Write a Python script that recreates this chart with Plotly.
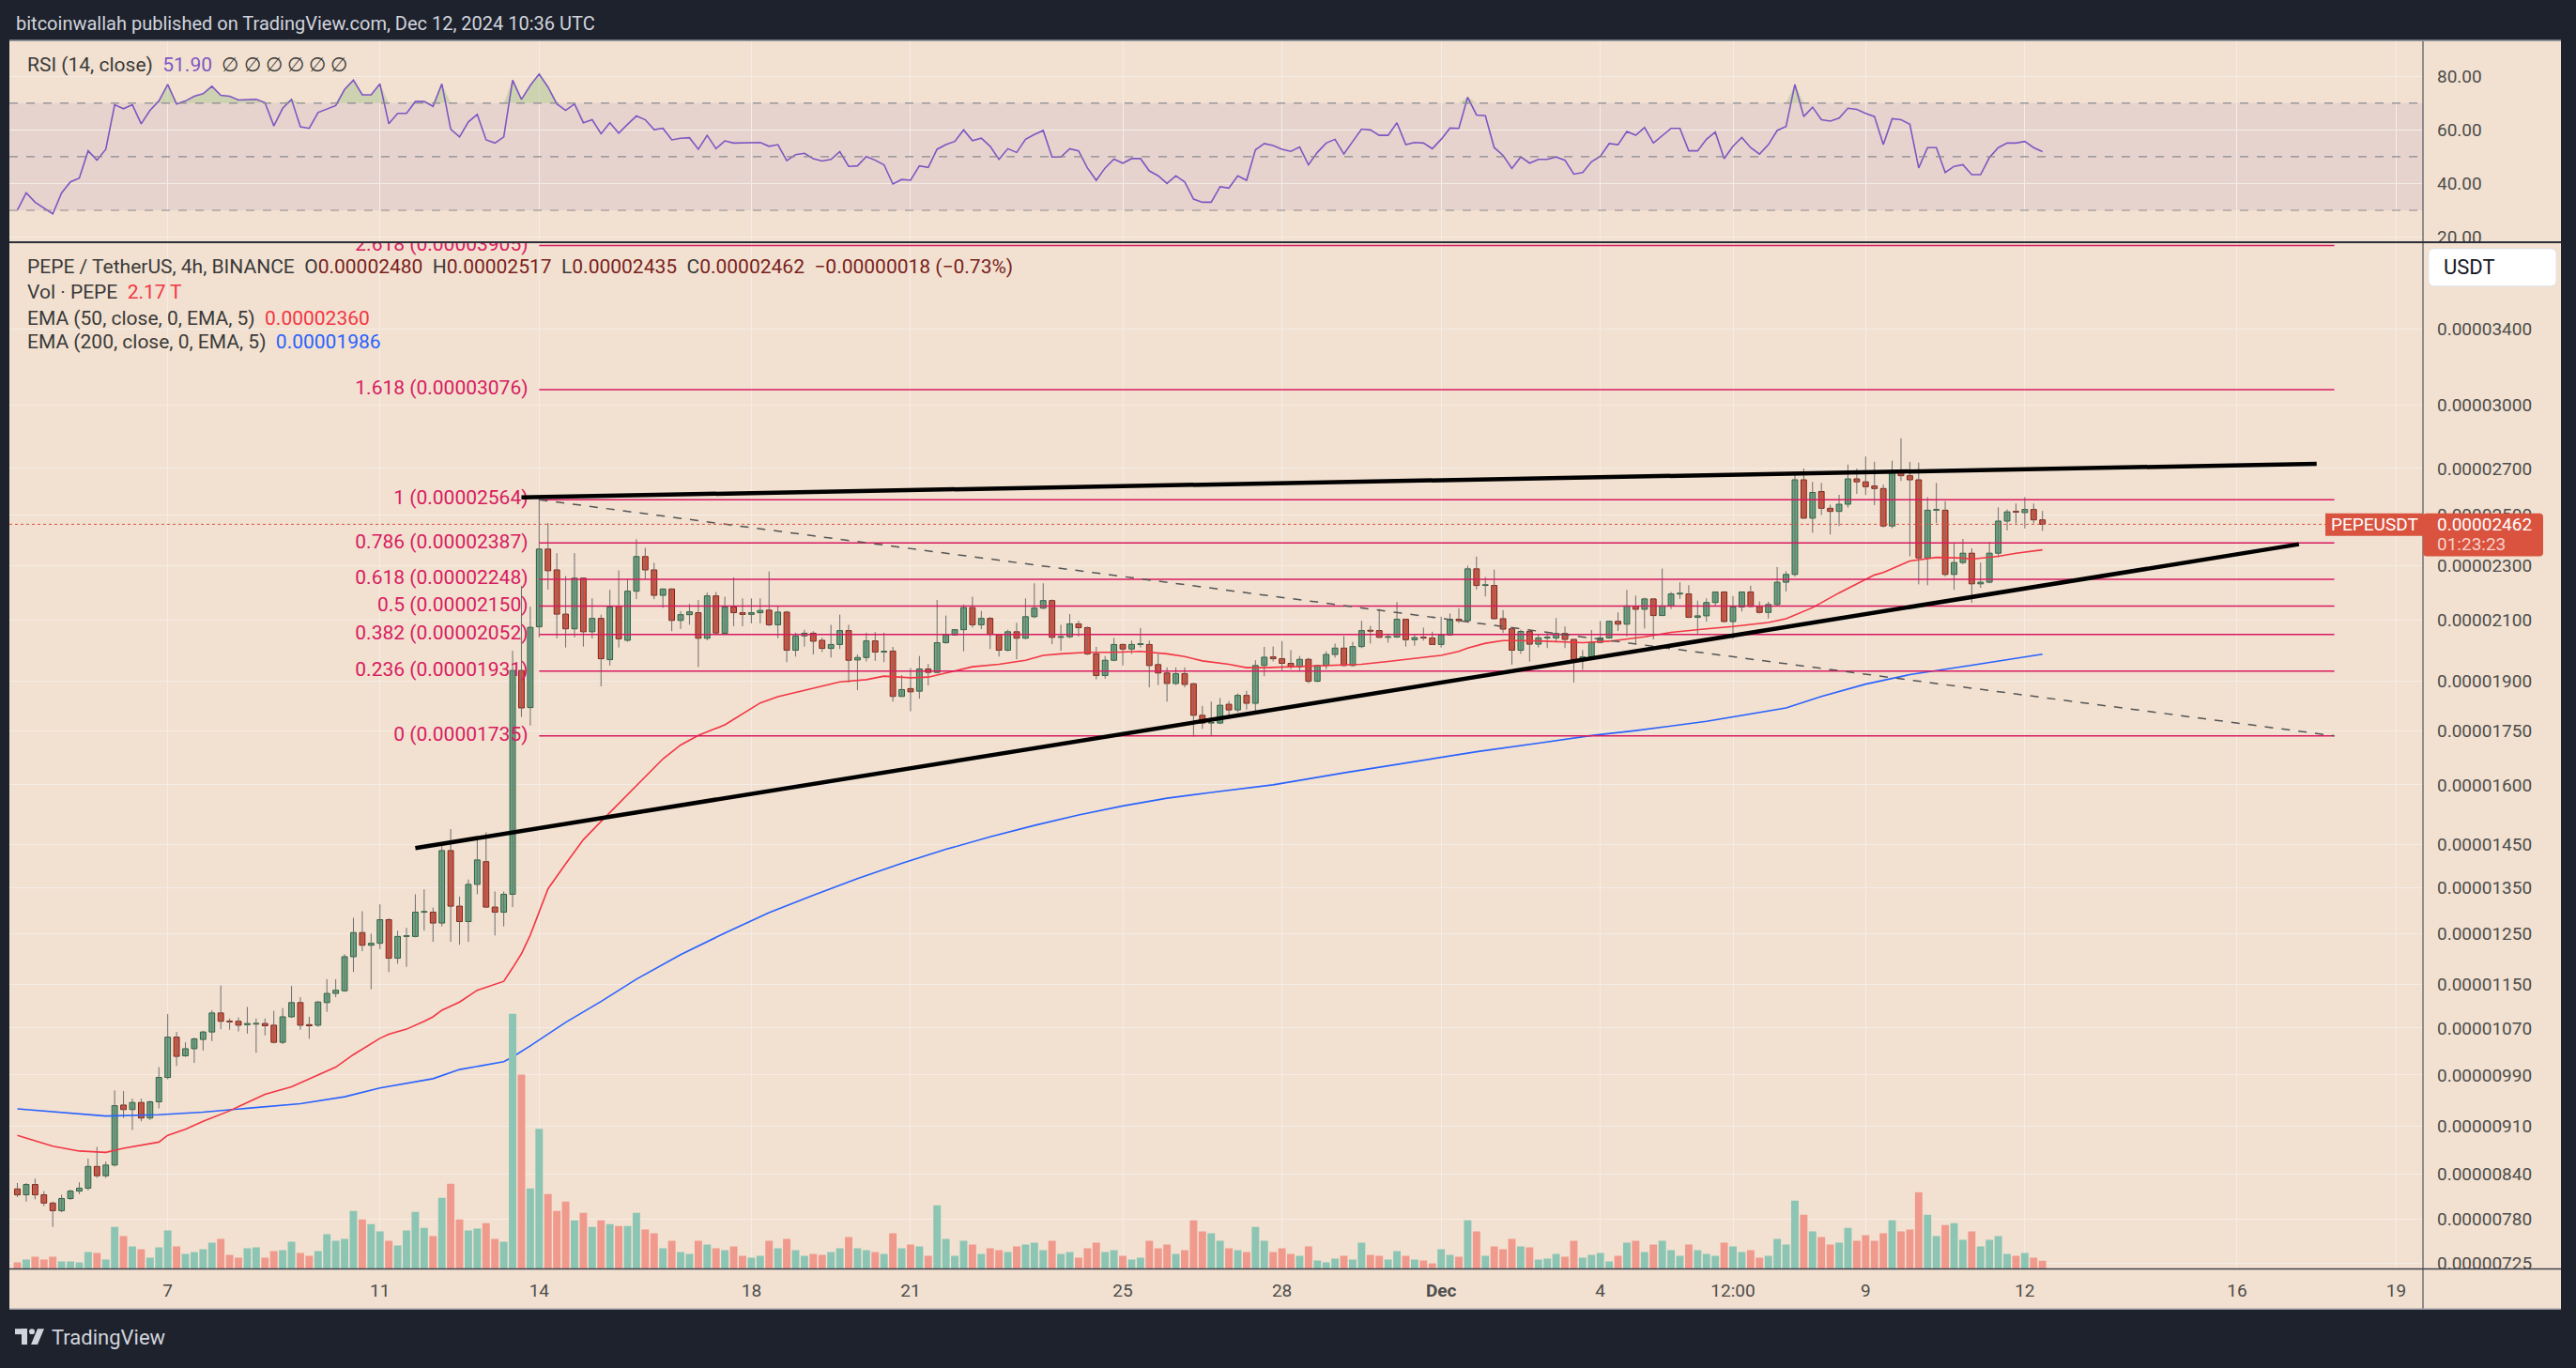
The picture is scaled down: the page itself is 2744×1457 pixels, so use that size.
import math
import pandas as pd
import plotly.graph_objects as go

W, H = 2744, 1457
SCALE = 1e-8  # all prices below are in units of 0.00000001 USDT

FIRST_CANDLE = "2024-11-04 04:00"   # 4h candles, PEPE/USDT Binance

OPEN = [
    820, 812, 826, 812, 801, 791, 807, 817, 821, 851,
    838, 853, 942, 935, 946, 922, 947, 986, 1054, 1022,
    1034, 1050, 1063, 1097, 1082, 1082, 1076, 1077, 1078, 1075,
    1045, 1090, 1116, 1076, 1075, 1116, 1133, 1138, 1204, 1253,
    1227, 1231, 1280, 1201, 1245, 1245, 1296, 1296, 1273, 1435,
    1309, 1276, 1357, 1409, 1307, 1296, 1335, 1933, 1818, 2078,
    2363, 2283, 2122, 2071, 2252, 2061, 2107, 1968, 2150, 2032,
    2204, 2334, 2283, 2189, 2212, 2100, 2120, 2127, 2039, 2187,
    2056, 2147, 2127, 2121, 2127, 2136, 2085, 2129, 1999, 2047,
    2056, 2032, 2005, 2018, 2065, 1967, 1975, 2030, 1993, 1996,
    1852, 1876, 1868, 1938, 1927, 2024, 2050, 2068, 2145, 2085,
    2107, 2052, 1999, 2061, 2039, 2113, 2143, 2170, 2042, 2044,
    2088, 2075, 1987, 1917, 1966, 2018, 2003, 2018, 2018, 1952,
    1925, 1892, 1923, 1891, 1795, 1772, 1772, 1828, 1811, 1855,
    1831, 1949, 1977, 1971, 1956, 1945, 1969, 1899, 1949, 1985,
    2006, 1949, 2011, 2066, 2065, 2042, 2043, 2104, 2034, 2041,
    2040, 2018, 2050, 2104, 2099, 2287, 2225, 2225, 2106, 2071,
    1999, 2062, 2019, 2040, 2040, 2055, 2035, 1967, 1977, 2025,
    2040, 2097, 2087, 2150, 2139, 2176, 2117, 2151, 2194, 2194,
    2111, 2116, 2163, 2201, 2096, 2147, 2201, 2150, 2128, 2156,
    2237, 2266, 2650, 2487, 2599, 2528, 2515, 2545, 2654, 2641,
    2623, 2612, 2455, 2690, 2668, 2650, 2329, 2520, 2520, 2266,
    2311, 2347, 2231, 2237, 2347, 2475, 2513, 2510, 2523, 2480,
]
HIGH = [
    828, 828, 834, 817, 803, 812, 819, 829, 862, 879,
    858, 965, 964, 952, 952, 949, 1003, 1095, 1063, 1045,
    1053, 1065, 1102, 1148, 1087, 1089, 1108, 1087, 1087, 1101,
    1106, 1147, 1126, 1090, 1119, 1160, 1160, 1209, 1284, 1298,
    1251, 1313, 1283, 1257, 1263, 1335, 1346, 1306, 1453, 1487,
    1330, 1368, 1462, 1479, 1341, 1341, 1997, 2223, 2148, 2564,
    2467, 2347, 2260, 2347, 2255, 2178, 2120, 2209, 2281, 2250,
    2402, 2368, 2310, 2214, 2214, 2133, 2158, 2172, 2199, 2201,
    2184, 2255, 2178, 2178, 2178, 2277, 2150, 2133, 2058, 2068,
    2063, 2041, 2085, 2120, 2085, 1985, 2058, 2060, 2058, 2010,
    1918, 1941, 1980, 1954, 2172, 2117, 2070, 2156, 2184, 2133,
    2112, 2054, 2068, 2092, 2178, 2233, 2233, 2174, 2085, 2122,
    2099, 2079, 2010, 1980, 2040, 2021, 2031, 2074, 2031, 1987,
    1943, 1943, 1943, 1894, 1823, 1836, 1847, 1838, 1861, 1869,
    1966, 2010, 2011, 2030, 1999, 1980, 1974, 1952, 1995, 2021,
    2047, 2027, 2099, 2081, 2140, 2055, 2165, 2106, 2053, 2075,
    2061, 2113, 2124, 2143, 2299, 2334, 2256, 2284, 2136, 2074,
    2068, 2070, 2053, 2058, 2108, 2079, 2037, 1999, 2067, 2098,
    2098, 2128, 2209, 2188, 2180, 2178, 2288, 2201, 2237, 2226,
    2170, 2178, 2203, 2204, 2186, 2203, 2224, 2167, 2166, 2294,
    2278, 2686, 2700, 2641, 2636, 2543, 2585, 2718, 2700, 2754,
    2730, 2629, 2735, 2838, 2730, 2726, 2575, 2636, 2558, 2387,
    2403, 2366, 2311, 2391, 2532, 2523, 2548, 2575, 2548, 2517,
]
LOW = [
    809, 803, 806, 797, 770, 789, 805, 813, 818, 835,
    835, 851, 922, 904, 917, 919, 937, 983, 1005, 1020,
    1010, 1031, 1047, 1068, 1067, 1064, 1060, 1027, 1057, 1043,
    1042, 1088, 1067, 1051, 1072, 1099, 1126, 1136, 1174, 1215,
    1141, 1219, 1174, 1190, 1184, 1243, 1257, 1234, 1266, 1234,
    1228, 1234, 1335, 1305, 1247, 1266, 1307, 1790, 1765, 2042,
    2210, 2039, 2008, 2042, 2011, 2038, 1883, 1949, 2008, 2027,
    2175, 2248, 2175, 2144, 2063, 2070, 2085, 1944, 2032, 2053,
    2051, 2080, 2080, 2090, 2090, 2080, 2039, 1960, 1978, 2011,
    1985, 1993, 1975, 2003, 1895, 1871, 1962, 1964, 1960, 1836,
    1850, 1807, 1845, 1886, 1924, 2021, 2048, 1995, 2075, 2070,
    2003, 1978, 1995, 1969, 2036, 2108, 2140, 2019, 1997, 2039,
    2045, 1983, 1905, 1907, 1963, 1949, 1987, 2008, 1880, 1887,
    1836, 1887, 1880, 1733, 1755, 1737, 1769, 1785, 1804, 1812,
    1800, 1915, 1962, 1934, 1937, 1930, 1892, 1896, 1937, 1975,
    1946, 1946, 2006, 2021, 2039, 2024, 2040, 2011, 2014, 2031,
    2016, 2008, 2048, 2091, 2097, 2210, 2185, 2103, 2057, 1952,
    1987, 1962, 2008, 2006, 2025, 2006, 1895, 1935, 1971, 2022,
    2037, 2064, 2045, 2018, 2072, 2035, 2116, 2140, 2176, 2108,
    2053, 2096, 2150, 2093, 2037, 2131, 2146, 2124, 2107, 2150,
    2203, 2258, 2484, 2428, 2500, 2421, 2455, 2531, 2589, 2584,
    2541, 2449, 2446, 2645, 2335, 2229, 2226, 2467, 2258, 2209,
    2305, 2162, 2216, 2233, 2332, 2437, 2465, 2445, 2465, 2435,
]
CLOSE = [
    812, 826, 812, 801, 791, 807, 817, 821, 851, 838,
    853, 941, 935, 946, 922, 947, 986, 1054, 1021, 1034,
    1051, 1063, 1097, 1082, 1081, 1075, 1078, 1078, 1074, 1045,
    1090, 1116, 1075, 1074, 1117, 1133, 1139, 1204, 1253, 1227,
    1231, 1280, 1201, 1245, 1246, 1296, 1297, 1273, 1435, 1309,
    1276, 1357, 1413, 1307, 1296, 1335, 1933, 1817, 2076, 2363,
    2280, 2122, 2071, 2252, 2061, 2107, 1971, 2147, 2037, 2204,
    2334, 2283, 2189, 2212, 2100, 2120, 2130, 2039, 2187, 2057,
    2147, 2127, 2121, 2127, 2135, 2085, 2129, 1999, 2047, 2056,
    2029, 2005, 2018, 2065, 1966, 1975, 2030, 1993, 1994, 1852,
    1873, 1866, 1938, 1927, 2024, 2050, 2068, 2145, 2085, 2107,
    2052, 1999, 2061, 2039, 2113, 2143, 2170, 2042, 2044, 2088,
    2075, 1987, 1917, 1966, 2018, 2003, 2018, 2019, 1949, 1925,
    1892, 1923, 1889, 1795, 1772, 1773, 1825, 1811, 1855, 1831,
    1949, 1976, 1971, 1956, 1945, 1969, 1899, 1949, 1985, 2006,
    1949, 2011, 2065, 2063, 2042, 2043, 2104, 2034, 2041, 2040,
    2018, 2050, 2104, 2099, 2287, 2225, 2226, 2106, 2070, 1999,
    2062, 2019, 2040, 2041, 2055, 2035, 1967, 1977, 2025, 2040,
    2097, 2087, 2151, 2139, 2176, 2117, 2151, 2194, 2195, 2111,
    2116, 2163, 2201, 2096, 2147, 2201, 2149, 2128, 2156, 2237,
    2266, 2650, 2487, 2595, 2528, 2515, 2545, 2654, 2641, 2620,
    2612, 2455, 2690, 2668, 2650, 2329, 2520, 2521, 2266, 2311,
    2347, 2231, 2237, 2347, 2475, 2513, 2512, 2523, 2480, 2462,
]
VOLUME_T = [  # volume, trillions of PEPE
    1.75, 2.5, 3.25, 2.5, 3.25, 2, 2, 1.75, 4.5, 4.25,
    2.5, 11.25, 8.75, 6, 5.25, 3, 5.75, 10.25, 6, 4,
    4.5, 5.25, 7, 8, 3.75, 3, 5.5, 5.75, 3, 4.75,
    5, 7.25, 4.25, 3.5, 4.75, 9.25, 7.5, 8, 15.5, 13.25,
    12, 10, 7.5, 6.25, 10.25, 15.25, 11, 8.75, 19, 22.75,
    13.25, 10.25, 10.75, 12.25, 8, 7.25, 68.25, 52, 21.5, 37.5,
    20, 15.5, 18, 13, 15, 11.25, 13, 12, 11.5, 11.5,
    15, 10.5, 9.5, 5.5, 7.5, 4.5, 4, 7.5, 6.5, 5.5,
    5, 6, 3.5, 3, 3.5, 7.5, 5.5, 8, 5, 3.5,
    4, 3.75, 4.5, 5.5, 8.5, 5.5, 5, 4.5, 4, 9.5,
    5.5, 6.5, 6, 3.5, 17, 8, 3.5, 7.5, 6.5, 4,
    5.5, 5, 4.5, 6, 6.5, 7, 5, 7.5, 4, 4.5,
    3, 5.5, 7, 4.5, 5, 3.5, 2.5, 3, 7.5, 5.5,
    6.5, 4, 5, 13, 10, 9.5, 7.5, 5.5, 5, 4.5,
    11.25, 7.5, 4.5, 5.5, 4, 3.5, 6, 2.25, 1.75, 2.75,
    3.5, 2.5, 7, 3.75, 3.5, 2.5, 4.75, 3.5, 2.5, 2.25,
    1.5, 5.25, 3.75, 3.25, 13, 10, 3.5, 6, 5.25, 8,
    6, 5.75, 2.5, 2.75, 4, 3.25, 7.5, 3, 3.75, 4.25,
    2, 3.5, 7, 7.5, 4.5, 6.5, 7.5, 5, 3.5, 6.5,
    5, 4, 3.5, 7, 6, 4.5, 5, 3, 3.5, 8,
    6.5, 18.25, 14.5, 10, 8.5, 6.5, 7, 11, 7.5, 9,
    7.5, 9.5, 13, 10, 10.5, 20.5, 14.5, 8.75, 11.75, 12.25,
    7.75, 10, 6, 7.75, 8.75, 4, 3.5, 4.25, 3, 2.17,
]
RSI = [
    30.1, 36.5, 33, 31, 28.7, 36.5, 40.6, 42, 52.2, 48.7,
    52.8, 69.4, 67.9, 69.4, 62.3, 67.3, 70.8, 77, 69.7, 70.8,
    72.6, 73.5, 76.3, 72.9, 72.6, 71.2, 71.3, 71.4, 70.2, 61.5,
    68.1, 71.4, 61.2, 60.6, 66.5, 67.9, 69.1, 75.1, 78.6, 73.1,
    73.1, 77.2, 62.3, 66.2, 66.2, 70.6, 70.6, 68.8, 77.2, 60.3,
    57.4, 63, 65.8, 56.3, 55.1, 57.4, 78.6, 71.4, 76.6, 80.9,
    76, 69.7, 67.3, 69.7, 62.7, 63.8, 58.6, 62.7, 58.8, 62.1,
    65.2, 63.8, 60.1, 60.6, 56.3, 56.9, 57.1, 52.8, 58, 53,
    55.9, 55.1, 55.1, 55.1, 55.3, 53.9, 54.5, 48.5, 50.8, 51.3,
    49.3, 48.4, 49, 51.9, 46.4, 46.6, 50.1, 48.7, 47, 39.8,
    41.5, 41.2, 46.6, 46, 52.8, 54.5, 55.7, 60, 56, 56.9,
    53.9, 49, 53, 51.6, 56.5, 58.3, 59.8, 49.9, 49.9, 53,
    52.2, 45.8, 41.2, 45.8, 49.1, 47.6, 49.3, 49.3, 44.7, 42.9,
    40, 42.9, 40.6, 34.2, 33, 33, 38.8, 38.3, 42.9, 41.2,
    52.6, 54.9, 54.2, 52.8, 52, 53.6, 47, 51.6, 55.1, 56.5,
    51, 55.7, 60.3, 60, 58, 58, 62.7, 54.5, 55.3, 55.1,
    53, 56.5, 60.7, 60.6, 72.2, 65.6, 65.3, 53.4, 50.5, 45.6,
    49.9, 47.6, 49, 49, 49.9, 48.7, 43.5, 44.1, 48.1, 50.2,
    54.9, 54.5, 59.4, 58, 60.9, 55.1, 58, 60.6, 60.6, 52.2,
    52.2, 56.5, 59.2, 49.3, 53.9, 57.2, 53.4, 51, 54.5, 59.8,
    61.3, 77, 65, 68.5, 63.8, 63.3, 64.4, 68.1, 67.7, 66.2,
    65, 54.5, 64.2, 63.8, 62.1, 45.8, 53.4, 53.4, 44.1, 46.4,
    47, 43.3, 43.3, 49.7, 53.4, 55.1, 55.1, 55.7, 53.4, 51.9,
]
# EMA lines at these candle indices
EMA50_IDX = [0, 4, 7, 10, 12, 14, 16, 17, 19, 21, 24, 26, 28, 31, 33, 35, 36, 38, 41, 42,
             44, 46, 47, 48, 50, 52, 55, 56, 57, 58, 60, 62, 64, 66, 68, 70, 73, 75, 77, 80,
             82, 84, 86, 89, 91, 93, 96, 98, 101, 103, 105, 108, 111, 114, 116, 118, 121, 124, 127, 130,
             132, 134, 137, 139, 141, 144, 147, 150, 152, 155, 158, 161, 163, 164, 166, 168, 170, 172, 177, 180,
             184, 187, 191, 194, 198, 200, 203, 206, 210, 211, 214, 217, 220, 221, 224, 226, 229]
EMA50_VAL = [896, 880, 873, 871, 877, 881, 886, 896, 905, 917, 933, 946, 959, 971, 984, 996, 1003, 1024, 1052, 1059,
             1068, 1082, 1090, 1102, 1117, 1139, 1156, 1182, 1210, 1248, 1347, 1404, 1461, 1506, 1551, 1600, 1670, 1709, 1736, 1767,
             1800, 1832, 1851, 1870, 1885, 1897, 1904, 1915, 1910, 1912, 1925, 1945, 1953, 1966, 1982, 1987, 1992, 1992, 1995, 1987,
             1978, 1964, 1953, 1942, 1942, 1945, 1947, 1949, 1953, 1962, 1972, 1982, 1995, 2006, 2022, 2031, 2031, 2030, 2024, 2029,
             2044, 2059, 2071, 2079, 2093, 2106, 2145, 2198, 2264, 2273, 2317, 2331, 2328, 2324, 2335, 2347, 2360]
EMA200_IDX = [0, 5, 10, 16, 21, 26, 32, 37, 41, 47, 50, 55, 56, 58, 62, 66, 70, 75, 80, 85,
              90, 95, 100, 105, 110, 115, 120, 125, 130, 135, 142, 150, 158, 165, 172, 178, 183, 191, 200, 204,
              209, 214, 221, 229]
EMA200_VAL = [936, 930, 925, 927, 931, 937, 944, 955, 969, 984, 999, 1012, 1020, 1039, 1080, 1118, 1160, 1208, 1252, 1295,
              1333, 1370, 1405, 1438, 1468, 1496, 1522, 1545, 1565, 1580, 1600, 1632, 1662, 1690, 1714, 1736, 1750, 1777, 1817, 1852,
              1890, 1920, 1950, 1986]

FIB_LABELS = ["0", "0.236", "0.382", "0.5", "0.618", "0.786", "1", "1.618", "2.618"]
FIB_PRICES = [1735, 1931, 2052, 2150, 2248, 2387, 2564, 3076, 3905]
FIB_START, FIB_END = "2024-11-14 00:00", "2024-12-17 20:00"
RESIST = [("2024-11-13 16:00", 2574), ("2024-12-17 12:00", 2721)]
SUPPORT = [("2024-11-11 16:00", 1441), ("2024-12-17 04:00", 2382)]
DIAG = [("2024-11-14 00:00", 2564), ("2024-12-17 20:00", 1735)]

PRICE_TICKS = [725, 780, 840, 910, 990, 1070, 1150, 1250, 1350, 1450, 1600, 1750, 1900,
               2100, 2300, 2500, 2700, 3000, 3400]
TIME_TICKS = ["2024-11-07", "2024-11-11", "2024-11-14", "2024-11-18", "2024-11-21", "2024-11-25",
              "2024-11-28", "2024-12-01", "2024-12-04", "2024-12-06 12:00", "2024-12-09", "2024-12-12",
              "2024-12-16", "2024-12-19"]
TIME_TEXT = ["7", "11", "14", "18", "21", "25", "28", "<b>Dec</b>", "4", "12:00", "9", "12", "16", "19"]
RSI_TICKS = [20, 40, 60, 80]
X_RANGE = ["2024-11-04 00:23", "2024-12-19 12:06"]
Y_RANGE = [718.4, 3926]
RSI_RANGE = [18.1, 93.5]
VOL_TOP = 274.75

assert len(OPEN) == len(HIGH) == len(LOW) == len(CLOSE) == len(VOLUME_T) == len(RSI) == 230

# ---------------------------------------------------------------- styling
BG = "#F2E1D0"
FRAME = "#1E222D"
GRID = "#F5ECE6"
AXTXT = "#4D4D4D"
FIB_COL = "#D81B60"
UP_FILL, UP_LINE = "#6BA583", "#2B5E3F"
DN_FILL, DN_LINE = "#D9533F", "#7A2419"
VOL_UP, VOL_DN = "#8CC5B3", "#F0998D"
RED = "#F23645"
BLUE = "#2962FF"
PURPLE = "#7E57C2"
FONT = "Roboto"


def px(x):
    return x / W


def py(y):
    return 1 - y / H


t = pd.date_range(FIRST_CANDLE, periods=len(OPEN), freq="4h")
bar_ms = 4 * 3600 * 1000
up = [c >= o for o, c in zip(OPEN, CLOSE)]

fig = go.Figure()

# volume (overlay axis)
fig.add_trace(go.Bar(
    x=t, y=VOLUME_T, yaxis="y3", xaxis="x",
    marker=dict(color=[VOL_UP if u else VOL_DN for u in up], line=dict(width=0)),
    width=0.84 * bar_ms, hoverinfo="skip"))

# wicks
wx, wy = [], []
for ti, h, l in zip(t, HIGH, LOW):
    wx += [ti, ti, None]
    wy += [l * SCALE, h * SCALE, None]
fig.add_trace(go.Scatter(x=wx, y=wy, mode="lines", line=dict(color="#6E6E6E", width=1),
                         hoverinfo="skip"))

# bodies
for direction, fill, edge in ((True, UP_FILL, UP_LINE), (False, DN_FILL, DN_LINE)):
    xs, base, size = [], [], []
    for ti, o, c, u in zip(t, OPEN, CLOSE, up):
        if u != direction:
            continue
        lo = min(o, c)
        xs.append(ti)
        base.append(lo * SCALE)
        size.append(max(abs(c - o), 0.0012 * c) * SCALE)
    fig.add_trace(go.Bar(x=xs, y=size, base=base, width=0.62 * bar_ms,
                         marker=dict(color=fill, line=dict(color=edge, width=1)),
                         hoverinfo="skip"))

# EMAs
fig.add_trace(go.Scatter(x=[t[i] for i in EMA200_IDX], y=[v * SCALE for v in EMA200_VAL],
                         mode="lines", line=dict(color=BLUE, width=1.6), hoverinfo="skip"))
fig.add_trace(go.Scatter(x=[t[i] for i in EMA50_IDX], y=[v * SCALE for v in EMA50_VAL],
                         mode="lines", line=dict(color=RED, width=1.6), hoverinfo="skip"))

# Fibonacci retracement
fx, fy = [], []
for p in FIB_PRICES:
    fx += [FIB_START, FIB_END, None]
    fy += [p * SCALE, p * SCALE, None]
fig.add_trace(go.Scatter(x=fx, y=fy, mode="lines", line=dict(color=FIB_COL, width=1.5),
                         hoverinfo="skip"))
label_x = pd.Timestamp(FIB_START) - pd.Timedelta(hours=5)
fig.add_trace(go.Scatter(
    x=[label_x] * len(FIB_PRICES), y=[p * SCALE for p in FIB_PRICES], mode="text",
    text=[f"{lab} ({p * SCALE:.8f})" for lab, p in zip(FIB_LABELS, FIB_PRICES)],
    textposition="middle left", textfont=dict(color=FIB_COL, size=21, family=FONT),
    cliponaxis=True, hoverinfo="skip"))

# dashed diagonal of the fib tool
fig.add_trace(go.Scatter(x=[d[0] for d in DIAG], y=[d[1] * SCALE for d in DIAG], mode="lines",
                         line=dict(color="#555555", width=1.5, dash="dash"), hoverinfo="skip"))

# last-price dotted line
fig.add_trace(go.Scatter(x=X_RANGE, y=[CLOSE[-1] * SCALE] * 2, mode="lines",
                         line=dict(color="#D9533F", width=1, dash="dot"), hoverinfo="skip"))

# triangle trend lines
for seg in (RESIST, SUPPORT):
    fig.add_trace(go.Scatter(x=[s[0] for s in seg], y=[s[1] * SCALE for s in seg], mode="lines",
                             line=dict(color="#000000", width=4.5), hoverinfo="skip"))

# RSI pane
rsi_top = [max(r, 70) for r in RSI]
fig.add_trace(go.Scatter(x=t, y=[70] * len(RSI), xaxis="x2", yaxis="y2", mode="lines",
                         line=dict(width=0), hoverinfo="skip"))
fig.add_trace(go.Scatter(x=t, y=rsi_top, xaxis="x2", yaxis="y2", mode="lines",
                         line=dict(width=0), fill="tonexty", fillcolor="rgba(110,175,95,0.28)",
                         hoverinfo="skip"))
fig.add_trace(go.Scatter(x=t, y=RSI, xaxis="x2", yaxis="y2", mode="lines",
                         line=dict(color=PURPLE, width=1.6), hoverinfo="skip"))

# ---------------------------------------------------------------- layout
X_DOM = [px(10), px(2581)]
RSI_DOM = [py(259), py(43)]
MAIN_DOM = [py(1357), py(259)]
tickfont = dict(family=FONT, size=19, color=AXTXT)

fig.update_layout(
    width=W, height=H, margin=dict(l=0, r=0, t=0, b=0, pad=0),
    paper_bgcolor=FRAME, plot_bgcolor="rgba(0,0,0,0)",
    barmode="overlay", showlegend=False, hovermode=False,
    xaxis=dict(domain=X_DOM, anchor="y", type="date", range=X_RANGE,
               tickvals=TIME_TICKS, ticktext=TIME_TEXT, tickfont=tickfont,
               showgrid=True, gridcolor=GRID, gridwidth=1, ticks="", showline=False,
               zeroline=False, ticklabelstandoff=10, fixedrange=True),
    xaxis2=dict(domain=X_DOM, anchor="y2", type="date", range=X_RANGE, matches="x",
                tickvals=TIME_TICKS, showticklabels=False, showgrid=True, gridcolor=GRID,
                ticks="", showline=False, zeroline=False),
    yaxis=dict(domain=MAIN_DOM, anchor="x", side="right", type="log",
               range=[math.log10(Y_RANGE[0] * SCALE), math.log10(Y_RANGE[1] * SCALE)],
               tickvals=[v * SCALE for v in PRICE_TICKS],
               ticktext=[f"{v * SCALE:.8f}" for v in PRICE_TICKS], tickfont=tickfont,
               showgrid=True, gridcolor=GRID, ticks="", showline=False, zeroline=False,
               ticklabelstandoff=14),
    yaxis2=dict(domain=RSI_DOM, anchor="x2", side="right", range=RSI_RANGE,
                tickvals=RSI_TICKS, ticktext=[f"{v:.2f}" for v in RSI_TICKS], tickfont=tickfont,
                showgrid=True, gridcolor=GRID, ticks="", showline=False, zeroline=False,
                ticklabelstandoff=14),
    yaxis3=dict(overlaying="y", anchor="x", range=[0, VOL_TOP], visible=False),
)

shapes = [
    dict(type="rect", xref="paper", yref="paper", x0=px(10), x1=px(2728), y0=py(1400), y1=py(43),
         fillcolor=BG, line=dict(width=0), layer="below"),
    dict(type="rect", xref="paper", yref="y2", x0=X_DOM[0], x1=X_DOM[1], y0=30, y1=70,
         fillcolor="rgba(126,87,194,0.10)", line=dict(width=0), layer="below"),
]
for lvl in (70, 50, 30):
    shapes.append(dict(type="line", xref="paper", yref="y2", x0=X_DOM[0], x1=X_DOM[1], y0=lvl, y1=lvl,
                       line=dict(color="#8A8A8F", width=1.2, dash="dash"), layer="above"))
# pane separators / borders
shapes += [
    dict(type="line", xref="paper", yref="paper", x0=px(2581), x1=px(2581), y0=py(1400), y1=py(43),
         line=dict(color="#50535E", width=1.2), layer="above"),
    dict(type="line", xref="paper", yref="paper", x0=px(10), x1=px(2728), y0=py(259), y1=py(259),
         line=dict(color="#2A2E39", width=2), layer="above"),
    dict(type="line", xref="paper", yref="paper", x0=px(10), x1=px(2728), y0=py(1357), y1=py(1357),
         line=dict(color="#3F424C", width=1.5), layer="above"),
    dict(type="line", xref="paper", yref="paper", x0=px(10), x1=px(2728), y0=py(1400), y1=py(1400),
         line=dict(color="#9598A1", width=1.5), layer="above"),
    dict(type="line", xref="paper", yref="paper", x0=px(10), x1=px(2728), y0=py(43.5), y1=py(43.5),
         line=dict(color="#9598A1", width=1.5), layer="above"),
]


def rounded(x0, y0, x1, y1, r):
    pts = (f"M {px(x0 + r)} {py(y0)} L {px(x1 - r)} {py(y0)} Q {px(x1)} {py(y0)} {px(x1)} {py(y0 + r)} "
           f"L {px(x1)} {py(y1 - r)} Q {px(x1)} {py(y1)} {px(x1 - r)} {py(y1)} "
           f"L {px(x0 + r)} {py(y1)} Q {px(x0)} {py(y1)} {px(x0)} {py(y1 - r)} "
           f"L {px(x0)} {py(y0 + r)} Q {px(x0)} {py(y0)} {px(x0 + r)} {py(y0)} Z")
    return pts


shapes += [
    dict(type="path", xref="paper", yref="paper", path=rounded(2587, 266, 2723, 306, 6),
         fillcolor="#FFFFFF", line=dict(color="#E0E3EB", width=1), layer="above"),
    dict(type="rect", xref="paper", yref="paper", x0=px(2477), x1=px(2581), y0=py(573), y1=py(549),
         fillcolor="#D9533F", line=dict(width=0), layer="above"),
    dict(type="path", xref="paper", yref="paper", path=rounded(2581, 549, 2709, 595, 4),
         fillcolor="#D9533F", line=dict(width=0), layer="above"),
    # TradingView logo
    dict(type="rect", xref="paper", yref="paper", x0=px(16), x1=px(29), y0=py(1427), y1=py(1421),
         fillcolor="#D1D4DC", line=dict(width=0), layer="above"),
    dict(type="rect", xref="paper", yref="paper", x0=px(23), x1=px(29), y0=py(1438), y1=py(1421),
         fillcolor="#D1D4DC", line=dict(width=0), layer="above"),
    dict(type="circle", xref="paper", yref="paper", x0=px(31), x1=px(37), y0=py(1427), y1=py(1421),
         fillcolor="#D1D4DC", line=dict(width=0), layer="above"),
    dict(type="path", xref="paper", yref="paper",
         path=f"M {px(40)} {py(1421)} L {px(47)} {py(1421)} L {px(40)} {py(1438)} L {px(33)} {py(1438)} Z",
         fillcolor="#D1D4DC", line=dict(width=0), layer="above"),
]
fig.update_layout(shapes=shapes)

DARK = "#3A3A3A"
MAROON = "#7A1E1E"
o, hh, ll, c = OPEN[-1] * SCALE, HIGH[-1] * SCALE, LOW[-1] * SCALE, CLOSE[-1] * SCALE
chg = (CLOSE[-1] - CLOSE[-2]) * SCALE
pct = (CLOSE[-1] - CLOSE[-2]) / CLOSE[-2] * 100
sp = "\u00a0\u00a0"
minus = "\u2212"
line1 = (f"PEPE / TetherUS, 4h, BINANCE{sp}O<span style='color:{MAROON}'>{o:.8f}</span>{sp}"
         f"H<span style='color:{MAROON}'>{hh:.8f}</span>{sp}L<span style='color:{MAROON}'>{ll:.8f}</span>{sp}"
         f"C<span style='color:{MAROON}'>{c:.8f}</span>{sp}"
         f"<span style='color:{MAROON}'>{minus}{abs(chg):.8f} ({minus}{abs(pct):.2f}%)</span>")
line2 = f"Vol · PEPE{sp}<span style='color:{RED}'>{VOLUME_T[-1]:.2f}\u2009T</span>"
line3 = f"EMA (50, close, 0, EMA, 5){sp}<span style='color:{RED}'>{EMA50_VAL[-1] * SCALE:.8f}</span>"
line4 = f"EMA (200, close, 0, EMA, 5){sp}<span style='color:{BLUE}'>{EMA200_VAL[-1] * SCALE:.8f}</span>"
rsi_line = (f"RSI (14, close){sp}<span style='color:{PURPLE}'>{RSI[-1]:.2f}</span>{sp}"
            f"\u2205\u00a0\u2205\u00a0\u2205\u00a0\u2205\u00a0\u2205\u00a0\u2205")


def ann(x, y, text, size=20, color=DARK, xanchor="left", **kw):
    return dict(xref="paper", yref="paper", x=px(x), y=py(y), text=text, showarrow=False,
                xanchor=xanchor, yanchor="middle", font=dict(family=FONT, size=size, color=color), **kw)


annotations = [
    ann(15, 25, "bitcoinwallah published on TradingView.com, Dec 12, 2024 10:36 UTC", 20, "#D1D4DC"),
    ann(27, 69, rsi_line, 21),
    ann(27, 285, line1, 21),
    ann(27, 312, line2, 21),
    ann(27, 340, line3, 21),
    ann(27, 366, line4, 21),
    ann(2601, 286, "USDT", 22, "#131722"),
    ann(2529, 561, "PEPEUSDT", 19, "#FFFFFF", xanchor="center"),
    ann(2594, 561, f"{c:.8f}", 19, "#FFFFFF"),
    ann(2594, 582, "01:23:23", 19, "#F7D2CA"),
    ann(53, 1430, "TradingView", 22, "#D1D4DC"),
]
fig.update_layout(annotations=annotations)

fig.write_html("out.html", config={"displayModeBar": False, "staticPlot": True},
               post_script="document.body.style.margin='0px';document.body.style.overflow='hidden';")
